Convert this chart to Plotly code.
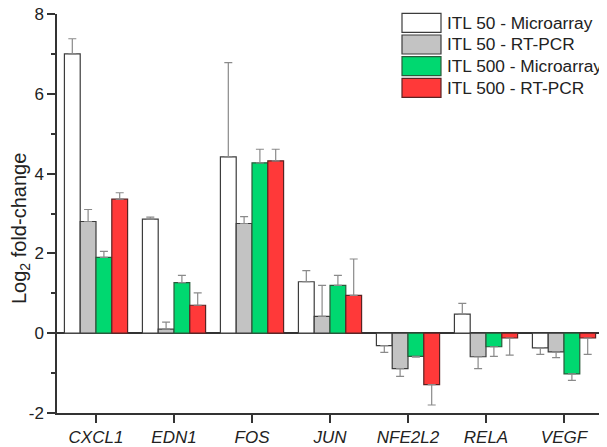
import plotly.graph_objects as go

genes = ["CXCL1", "EDN1", "FOS", "JUN", "NFE2L2", "RELA", "VEGF"]

series_names = ["ITL 50 - Microarray", "ITL 50 - RT-PCR", "ITL 500 - Microarray", "ITL 500 - RT-PCR"]
series_colors = ["#ffffff", "#c3c3c3", "#00d870", "#ff3939"]
series_lines = ["#3c3c3c", "#3c3c3c", "#2a5a3a", "#5a2323"]

itl50_micro = [7.00, 2.86, 4.42, 1.29, -0.31, 0.48, -0.37]
itl50_pcr = [2.80, 0.10, 2.75, 0.42, -0.89, -0.59, -0.47]
itl500_micro = [1.90, 1.27, 4.27, 1.20, -0.58, -0.34, -1.02]
itl500_pcr = [3.36, 0.70, 4.32, 0.95, -1.29, -0.12, -0.12]

itl50_micro_err = [0.38, 0.05, 2.36, 0.28, 0.17, 0.265, 0.16]
itl50_pcr_err = [0.30, 0.18, 0.17, 0.78, 0.19, 0.30, 0.14]
itl500_micro_err = [0.15, 0.18, 0.34, 0.25, 0.02, 0.24, 0.16]
itl500_pcr_err = [0.16, 0.31, 0.29, 0.91, 0.51, 0.43, 0.41]

values = [itl50_micro, itl50_pcr, itl500_micro, itl500_pcr]
errors = [itl50_micro_err, itl50_pcr_err, itl500_micro_err, itl500_pcr_err]

yticks = [-2, 0, 2, 4, 6, 8]

FONT = "Arial, 'Liberation Sans', sans-serif"
AX = "#333333"
TXT = "#222222"

# page body has an 8px default margin; size the figure so it fills the window
OFF = 8
W, H = 607 - OFF, 447 - OFF
ML, MR, MT, MB = 57 - OFF, 4, 14 - OFF, 34
PW = W - ML - MR
PH = H - MT - MB


def px_x(x):
    return (x - OFF - ML) / PW


def px_y(y):
    return (H - MB - (y - OFF)) / PH


fig = go.Figure()
for name, vals, errs, col, lc in zip(series_names, values, errors, series_colors, series_lines):
    plus = [e if v >= 0 else 0 for v, e in zip(vals, errs)]
    minus = [e if v < 0 else 0 for v, e in zip(vals, errs)]
    fig.add_trace(go.Bar(
        x=genes, y=vals, name=name,
        marker=dict(color=col, line=dict(color=lc, width=1.2)),
        error_y=dict(type="data", symmetric=False, array=plus, arrayminus=minus,
                     color="#8a8a8a", thickness=1.2, width=4),
        showlegend=False,
    ))

# legend drawn as boxes + text
box_x0, box_x1 = 402, 441
row_top0, row_h, box_h = 13.3, 21.7, 19
shapes = []
annotations = []
for i, (name, col, lc) in enumerate(zip(series_names, series_colors, series_lines)):
    top = row_top0 + i * row_h
    shapes.append(dict(type="rect", xref="paper", yref="paper",
                       x0=px_x(box_x0), x1=px_x(box_x1),
                       y0=px_y(top + box_h), y1=px_y(top),
                       fillcolor=col, line=dict(color=lc, width=1.2)))
    annotations.append(dict(xref="paper", yref="paper", x=px_x(444.5), y=px_y(top + box_h / 2),
                            xanchor="left", yanchor="middle", showarrow=False,
                            text=name, font=dict(family=FONT, size=17.3, color=TXT)))

annotations.append(dict(xref="paper", yref="paper", x=px_x(20), y=px_y(229),
                        xanchor="center", yanchor="middle", showarrow=False, textangle=-90,
                        text="Log<sub>2</sub> fold-change",
                        font=dict(family=FONT, size=20, color=TXT)))

fig.update_layout(
    width=W, height=H,
    margin=dict(l=ML, r=MR, t=MT, b=MB),
    paper_bgcolor="white", plot_bgcolor="white",
    barmode="group", bargap=0.19, bargroupgap=0,
    font=dict(family=FONT, size=17, color=TXT),
    shapes=shapes, annotations=annotations,
    xaxis=dict(
        range=[-0.5, 6.5], showline=True, linecolor=AX, linewidth=1.5,
        ticks="outside", ticklen=8, tickwidth=1.5, tickcolor=AX,
        tickvals=genes, ticktext=["<i>%s</i>" % g for g in genes],
        tickfont=dict(family=FONT, size=17, color=TXT),
        showgrid=False, zeroline=False, fixedrange=True, automargin=False,
    ),
    yaxis=dict(
        range=[-2, 8], showline=True, linecolor=AX, linewidth=1.5,
        ticks="outside", ticklen=8, tickwidth=1.5, tickcolor=AX,
        tickvals=yticks, ticktext=[str(t) for t in yticks],
        tickfont=dict(family=FONT, size=17, color=TXT),
        ticklabeloverflow="allow",
        minor=dict(dtick=1, tick0=0, ticks="outside", ticklen=4, tickwidth=1.5, tickcolor=AX, showgrid=False),
        showgrid=False, zeroline=True, zerolinecolor=AX, zerolinewidth=1.5,
        automargin=False,
    ),
)

fig.write_html("out.html")
